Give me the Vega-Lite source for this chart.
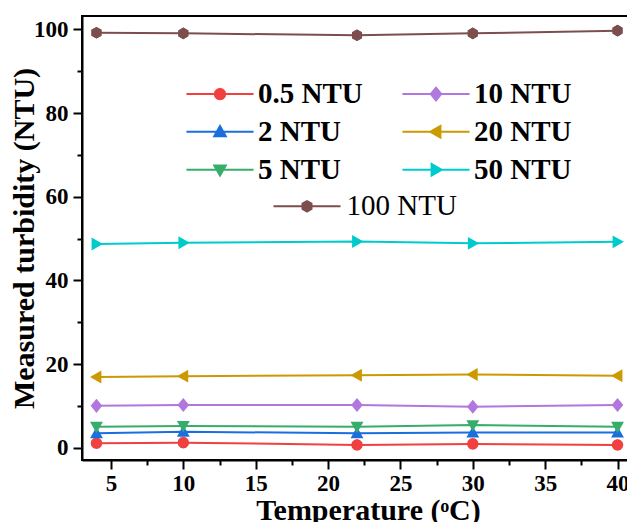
{
  "$schema": "https://vega.github.io/schema/vega-lite/v6.json",
  "width": 550,
  "height": 444,
  "autosize": {"type": "none"},
  "padding": {"left": 82, "top": 16, "right": 0, "bottom": 62},
  "background": "white",
  "data": {"values": [
    {"t": 4, "v": 1.05, "s": "0.5 NTU"}, {"t": 10, "v": 1.2, "s": "0.5 NTU"}, {"t": 22, "v": 0.65, "s": "0.5 NTU"}, {"t": 30, "v": 0.9, "s": "0.5 NTU"}, {"t": 40, "v": 0.65, "s": "0.5 NTU"},
    {"t": 4, "v": 3.45, "s": "2 NTU"}, {"t": 10, "v": 3.8, "s": "2 NTU"}, {"t": 22, "v": 3.45, "s": "2 NTU"}, {"t": 30, "v": 3.6, "s": "2 NTU"}, {"t": 40, "v": 3.6, "s": "2 NTU"},
    {"t": 4, "v": 5.0, "s": "5 NTU"}, {"t": 10, "v": 5.2, "s": "5 NTU"}, {"t": 22, "v": 5.0, "s": "5 NTU"}, {"t": 30, "v": 5.4, "s": "5 NTU"}, {"t": 40, "v": 5.0, "s": "5 NTU"},
    {"t": 4, "v": 10.0, "s": "10 NTU"}, {"t": 10, "v": 10.2, "s": "10 NTU"}, {"t": 22, "v": 10.2, "s": "10 NTU"}, {"t": 30, "v": 9.8, "s": "10 NTU"}, {"t": 40, "v": 10.2, "s": "10 NTU"},
    {"t": 4, "v": 16.9, "s": "20 NTU"}, {"t": 10, "v": 17.1, "s": "20 NTU"}, {"t": 22, "v": 17.3, "s": "20 NTU"}, {"t": 30, "v": 17.5, "s": "20 NTU"}, {"t": 40, "v": 17.2, "s": "20 NTU"},
    {"t": 4, "v": 48.7, "s": "50 NTU"}, {"t": 10, "v": 49.0, "s": "50 NTU"}, {"t": 22, "v": 49.3, "s": "50 NTU"}, {"t": 30, "v": 48.85, "s": "50 NTU"}, {"t": 40, "v": 49.2, "s": "50 NTU"},
    {"t": 4, "v": 99.2, "s": "100 NTU"}, {"t": 10, "v": 99.05, "s": "100 NTU"}, {"t": 22, "v": 98.6, "s": "100 NTU"}, {"t": 30, "v": 99.05, "s": "100 NTU"}, {"t": 40, "v": 99.7, "s": "100 NTU"}
  ]},
  "resolve": {"axis": {"x": "independent", "y": "independent"}},
  "layer": [
    {
      "mark": {"type": "line", "strokeWidth": 2},
      "encoding": {
        "x": {"field": "t", "type": "quantitative", "scale": {"domain": [3, 41], "nice": false, "zero": false},
          "axis": {"orient": "bottom", "values": [5, 10, 15, 20, 25, 30, 35, 40], "title": "Temperature (ᵒC)", "titleX": 286, "grid": false}},
        "y": {"field": "v", "type": "quantitative", "scale": {"domain": [-2.95, 103.2], "nice": false, "zero": false},
          "axis": {"orient": "left", "values": [0, 20, 40, 60, 80, 100], "title": "Measured turbidity (NTU)", "grid": false}},
        "color": {"field": "s", "type": "nominal",
          "scale": {"domain": ["0.5 NTU", "2 NTU", "5 NTU", "10 NTU", "20 NTU", "50 NTU", "100 NTU"],
                    "range": ["#F14040", "#1A6FDF", "#37AD6B", "#B177DE", "#CC9900", "#00CBCC", "#7D4E4E"]},
          "legend": {
            "orient": "none", "legendX": 123.5, "legendY": 63.3, "columns": 2, "columnPadding": 34, "rowPadding": 8,
            "values": ["0.5 NTU", "2 NTU", "5 NTU", "10 NTU", "20 NTU", "50 NTU"],
            "title": null, "padding": 0,
            "labelFont": "Liberation Serif", "labelFontSize": 29, "labelFontWeight": "bold", "labelColor": "black", "labelOffset": 23.5, "labelLimit": 0,
            "symbolSize": 121, "symbolStrokeWidth": 2
          }}
      }
    },
    {
      "mark": {"type": "point", "filled": true, "size": 150, "opacity": 1},
      "encoding": {
        "x": {"field": "t", "type": "quantitative",
          "axis": {"orient": "bottom", "values": [7.5, 12.5, 17.5, 22.5, 27.5, 32.5, 37.5], "labels": false, "title": null, "domain": false, "tickSize": 5, "grid": false}},
        "y": {"field": "v", "type": "quantitative",
          "axis": {"orient": "left", "values": [10, 30, 50, 70, 90], "labels": false, "title": null, "domain": false, "tickSize": 5, "grid": false}},
        "color": {"field": "s", "type": "nominal",
          "legend": {
            "orient": "none", "legendX": 123.5, "legendY": 63.3, "columns": 2, "columnPadding": 34, "rowPadding": 8,
            "values": ["0.5 NTU", "2 NTU", "5 NTU", "10 NTU", "20 NTU", "50 NTU"],
            "title": null, "padding": 0,
            "labelFont": "Liberation Serif", "labelFontSize": 29, "labelFontWeight": "bold", "labelColor": "black", "labelOffset": 23.5, "labelLimit": 0,
            "symbolSize": 121, "symbolStrokeWidth": 2
          }},
        "shape": {"field": "s", "type": "nominal",
          "scale": {"domain": ["0.5 NTU", "2 NTU", "5 NTU", "10 NTU", "20 NTU", "50 NTU", "100 NTU"],
                    "range": [
                      "M-6.1,0L6.1,0M0.95,0L0.823,0.475L0.475,0.823L0,0.95L-0.475,0.823L-0.823,0.475L-0.95,0L-0.823,-0.475L-0.475,-0.823L0,-0.95L0.475,-0.823L0.823,-0.475Z",
                      "M-6.1,0L6.1,0M0,-1.05L1.05,0.8L-1.05,0.8Z",
                      "M-6.1,0L6.1,0M0,1.05L1.05,-0.8L-1.05,-0.8Z",
                      "M-6.1,0L6.1,0M0,-1.15L0.95,0L0,1.15L-0.95,0Z",
                      "M-6.1,0L6.1,0M-1.05,0L0.8,-1.05L0.8,1.05Z",
                      "M-6.1,0L6.1,0M1.05,0L-0.8,-1.05L-0.8,1.05Z",
                      "M-6.1,0L6.1,0M0,-0.95L0.82,-0.475L0.82,0.475L0,0.95L-0.82,0.475L-0.82,-0.475Z"]},
          "legend": {
            "orient": "none", "legendX": 123.5, "legendY": 63.3, "columns": 2, "columnPadding": 34, "rowPadding": 8,
            "values": ["0.5 NTU", "2 NTU", "5 NTU", "10 NTU", "20 NTU", "50 NTU"],
            "title": null, "padding": 0,
            "labelFont": "Liberation Serif", "labelFontSize": 29, "labelFontWeight": "bold", "labelColor": "black", "labelOffset": 23.5, "labelLimit": 0,
            "symbolSize": 121, "symbolStrokeWidth": 2
          }}
      }
    },
    {
      "transform": [{"filter": "datum.s === '100 NTU'"}],
      "mark": {"type": "point", "filled": true, "size": 150, "opacity": 1, "shape": "M-6.1,0L6.1,0M0,-0.95L0.82,-0.475L0.82,0.475L0,0.95L-0.82,0.475L-0.82,-0.475Z"},
      "encoding": {
        "x": {"field": "t", "type": "quantitative", "axis": null},
        "y": {"field": "v", "type": "quantitative", "axis": null},
        "fill": {"field": "s", "type": "nominal",
          "scale": {"domain": ["100 NTU", "50 NTU", "20 NTU", "10 NTU", "5 NTU", "2 NTU", "0.5 NTU"],
                    "range": ["#7D4E4E", "#00CBCC", "#CC9900", "#B177DE", "#37AD6B", "#1A6FDF", "#F14040"]},
          "legend": {
            "orient": "none", "legendX": 210.5, "legendY": 175.8, "values": ["100 NTU"], "title": null, "padding": 0,
            "labelFont": "Liberation Serif", "labelFontSize": 29, "labelFontWeight": "normal", "labelColor": "black", "labelOffset": 25, "labelLimit": 0,
            "symbolSize": 121, "symbolStrokeWidth": 2, "symbolStrokeColor": "#7D4E4E",
            "symbolType": "M-6.1,0L6.1,0M0,-0.95L0.82,-0.475L0.82,0.475L0,0.95L-0.82,0.475L-0.82,-0.475Z"
          }}
      }
    }
  ],
  "config": {
    "view": {"stroke": "black", "strokeWidth": 2},
    "axis": {
      "domainColor": "black", "domainWidth": 2, "tickColor": "black", "tickWidth": 2, "tickSize": 9,
      "labelFont": "Liberation Serif", "labelFontSize": 23, "labelFontWeight": "bold", "labelColor": "black", "labelPadding": 4,
      "titleFont": "Liberation Serif", "titleFontSize": 30, "titleFontWeight": "bold", "titleColor": "black"
    },
    "axisX": {"labelPadding": 3, "titlePadding": 0},
    "axisY": {"labelPadding": 5, "titlePadding": -6}
  }
}
